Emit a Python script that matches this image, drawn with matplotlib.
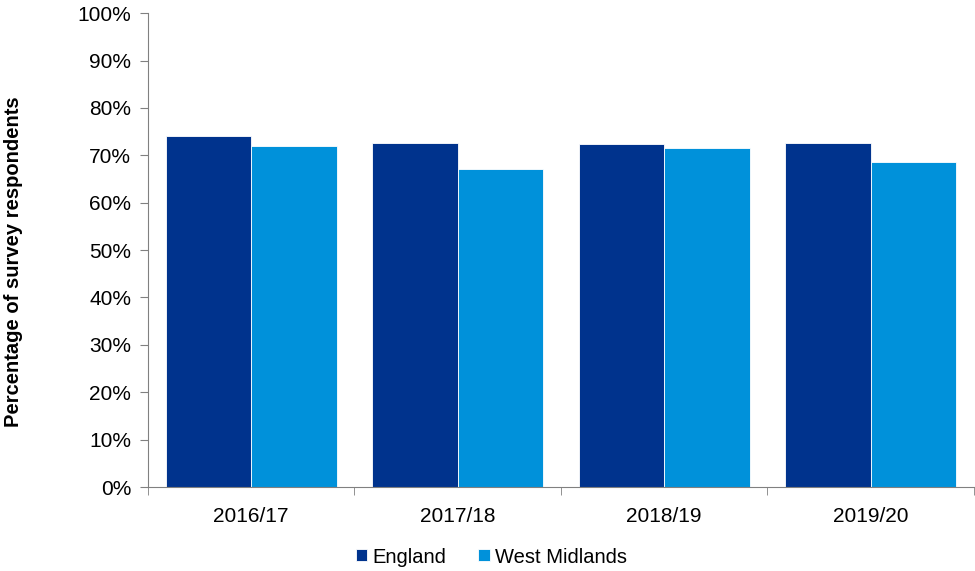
import numpy as np
import matplotlib
matplotlib.use("Agg")
import matplotlib.pyplot as plt
from matplotlib.ticker import PercentFormatter, FixedLocator

plt.rcParams['font.family'] = ['Liberation Sans', 'DejaVu Sans']

years = ['2016/17', '2017/18', '2018/19', '2019/20']
england = [74.1, 72.7, 72.4, 72.6]
west_midlands = [71.9, 67.1, 71.6, 68.6]

navy = '#00338D'
blue = '#0091DA'

fig = plt.figure(figsize=(9.75, 5.71), dpi=100)
ax = fig.add_axes([0.1518, 0.147, 0.847, 0.83])

x = np.arange(len(years))
w = 0.414
ax.bar(x - w / 2, england, w, color=navy, edgecolor='white', linewidth=0.6, label='England')
ax.bar(x + w / 2, west_midlands, w, color=blue, edgecolor='white', linewidth=0.6, label='West Midlands')

ax.set_xlim(-0.5, len(years) - 0.5)
ax.set_ylim(0, 100)
ax.set_yticks(np.arange(0, 101, 10))
ax.yaxis.set_major_formatter(PercentFormatter(decimals=0))

# labels centred, ticks at the category boundaries
ax.set_xticks(x)
ax.set_xticklabels(years)
ax.tick_params(axis='x', which='major', length=0, pad=14, labelsize=15)
ax.xaxis.set_minor_locator(FixedLocator(np.arange(-0.5, len(years), 1.0)))
ax.tick_params(axis='x', which='minor', length=6, direction='out', color='#808080')
ax.tick_params(axis='y', length=6, direction='out', color='#808080', labelsize=15, pad=6)

for s in ['top', 'right']:
    ax.spines[s].set_visible(False)
for s in ['left', 'bottom']:
    ax.spines[s].set_color('#808080')

ax.set_ylabel('Percentage of survey respondents', fontsize=14.5, fontweight='bold')
ax.yaxis.set_label_coords(-0.151, 0.475)

fig.legend(loc='center', bbox_to_anchor=(0.504, 0.0245), ncol=2, frameon=False,
           fontsize=14.5, handlelength=0.55, handleheight=0.55, handletextpad=0.25,
           columnspacing=1.6)

fig.savefig('out.png', dpi=100)
